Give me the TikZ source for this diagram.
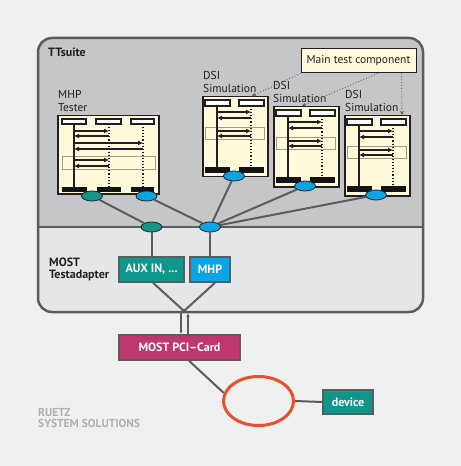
\documentclass[tikz,border=0pt]{standalone}
\usepackage{fontspec}
\setmainfont{PT Sans}
\usetikzlibrary{shapes.geometric,arrows.meta,calc}
\definecolor{bgc}{HTML}{F0F0F0}
\definecolor{upperc}{HTML}{C5C6C8}
\definecolor{lowerc}{HTML}{E5E6E7}
\definecolor{borderc}{HTML}{5B5C5E}
\definecolor{cream}{HTML}{FFFADC}
\definecolor{tealc}{HTML}{10968A}
\definecolor{bluec}{HTML}{0AA5E2}
\definecolor{magc}{HTML}{BE376E}
\definecolor{ringc}{HTML}{E8502D}
\definecolor{txtc}{HTML}{231F20}
\definecolor{logoc}{HTML}{AEAFB1}
\definecolor{framec}{HTML}{A29E86}
\definecolor{barc}{HTML}{141414}
\tikzset{
  seqbox/.style={draw=txtc, fill=cream, anchor=north west, inner sep=0pt, line width=1.5bp},
  hdr/.style={draw=txtc, fill=white, line width=1.1bp},
  framebox/.style={draw=framec, line width=0.9bp},
  life/.style={draw=txtc, line width=1.1bp},
  msg/.style={draw=txtc, line width=1.1bp, -{Latex[length=5bp,width=5bp]}},
  ell/.style={ellipse, draw=txtc, line width=0.8bp, minimum width=21bp, minimum height=10bp, inner sep=0pt},
  blueell/.style={ell, fill=bluec},
  tealell/.style={ell, fill=tealc},
  conn/.style={draw=borderc, line width=2bp},
  lbl/.style={font=\fontsize{11.5bp}{13bp}\selectfont, text=txtc, align=left, inner sep=0pt, text depth=0pt},
  boldlbl/.style={font=\fontsize{12bp}{12.5bp}\selectfont\bfseries, text=txtc, align=left, inner sep=0pt, text depth=0pt},
  colbox/.style={draw=borderc, line width=1.5bp, inner sep=0pt, text=white, font=\fontsize{12bp}{12bp}\selectfont\bfseries},
  dotarr/.style={draw=borderc, line width=0.9bp, dotted, -{Stealth[length=4bp,width=4bp]}},
  pciarr/.style={draw=borderc, line width=1.3bp, -{Latex[length=4bp,width=3.5bp]}}
}
\newcommand\dsibox[2]{%
 \begin{scope}[shift={#2}]
  \node[seqbox, minimum width=65bp, minimum height=80bp] (#1) at (0,0) {};
  \draw[framebox] (3,31) rectangle (62,43);
  \draw[hdr] (3,4) rectangle (28,10);
  \draw[hdr] (37,4) rectangle (62,10);
  \draw[life] (15,10) -- (15,71);
  \draw[life,dotted] (49,10) -- (49,71);
  \draw[msg] (15,16) -- (49,16);
  \draw[msg] (49,22) -- (15,22);
  \draw[msg] (15,35) -- (49,35);
  \draw[msg] (49,40) -- (15,40);
  \fill[barc] (3,71) rectangle (28,77);
  \fill[barc] (37,71) rectangle (62,77);
  \node[blueell] (#1e) at (32,80) {};
 \end{scope}}
\begin{document}
\begin{tikzpicture}[x=1bp,y=-1bp]
\useasboundingbox (0,0) rectangle (461,466);
\fill[bgc] (0,0) rectangle (461,466);
% outer container
\begin{scope}
  \clip[rounded corners=14bp] (38,38) rectangle (423,312);
  \fill[upperc] (38,38) rectangle (423,227);
  \fill[lowerc] (38,227) rectangle (423,312);
\end{scope}
\draw[borderc, line width=2.5bp] (38,227) -- (423,227);
\draw[borderc, line width=2.5bp, rounded corners=14bp] (38,38) rectangle (423,312);

\node[boldlbl, anchor=base west] (ttsuite) at (48,57) {TTsuite};

% MHP tester
\node[lbl, anchor=south west] (mhplbl) at (58,111.5) {MHP\\Tester};
\begin{scope}[shift={(57,115)}]
  \node[seqbox, minimum width=101bp, minimum height=78bp] (mhpt) at (0,0) {};
  \draw[framebox] (5,41) rectangle (98,54);
  \draw[hdr] (5,4) rectangle (29,9);
  \draw[hdr] (39,4) rectangle (64,9);
  \draw[hdr] (74,4) rectangle (97,9);
  \draw[life] (17,9) -- (17,72);
  \draw[life,dotted] (52,9) -- (52,72);
  \draw[life,dotted] (86,9) -- (86,72);
  \draw[msg] (17,16) -- (52,16);
  \draw[msg] (52,21) -- (17,21);
  \draw[msg] (17,28) -- (86,28);
  \draw[msg] (86,34) -- (17,34);
  \draw[msg] (17,45) -- (52,45);
  \draw[msg] (52,51) -- (17,51);
  \fill[barc] (5,72) rectangle (30,77);
  \fill[barc] (40,72) rectangle (64,77);
  \fill[barc] (74,72) rectangle (97,77);
  \node[tealell] (mhpte) at (35,81) {};
  \node[blueell] (mhptb) at (89.5,81) {};
\end{scope}

% DSI simulations
\node[lbl, anchor=south west] (dsiAlbl) at (203,93) {DSI\\Simulation};
\node[lbl, anchor=south west] (dsiBlbl) at (273,102.5) {DSI\\Simulation};
\node[lbl, anchor=south west] (dsiClbl) at (345,112) {DSI\\Simulation};
\dsibox{dsiA}{(202,96)}
\dsibox{dsiB}{(273,106)}
\dsibox{dsiC}{(344,115)}

% main test component
\node[draw=txtc, fill=cream, line width=1bp, minimum width=115bp, minimum height=24bp, inner sep=0pt,
      font=\fontsize{11.5bp}{12bp}\selectfont, text=txtc] (mtc) at (358.5,61) {Main test component};
\draw[dotarr] (mtc.south west) -- ($(dsiA.north west)+(50,0)$);
\draw[dotarr] ($(mtc.south west)+(77,0)$) -- ($(dsiB.north west)+(29,0)$);
\draw[dotarr] ($(mtc.south west)+(101,0)$) -- ($(dsiC.north west)+(58,0)$);

% lower ellipses
\node[tealell] (lowT) at (151.5,227) {};
\node[blueell] (lowB) at (210,227) {};
\draw[conn] (mhpte) -- (lowT);
\draw[conn] (mhptb) -- (lowB);
\draw[conn] (dsiAe) -- (lowB);
\draw[conn] (dsiBe) -- (lowB);
\draw[conn] (dsiCe) -- (lowB);

% MOST Testadapter
\node[boldlbl, anchor=south west] (mostlbl) at (49,279) {MOST\\Testadapter};
\node[colbox, fill=tealc, minimum width=65bp, minimum height=25bp] (aux) at (151.5,269.5) {AUX IN, ...};
\node[colbox, fill=bluec, minimum width=40bp, minimum height=25bp] (mhpbox) at (210,269.5) {MHP};
\draw[conn] (lowT) -- (aux);
\draw[conn] (lowB) -- (mhpbox);
\coordinate (conv) at (184,311);
\draw[conn] ([xshift=1.5bp]aux.south) -- (conv);
\draw[conn] ([xshift=5bp]mhpbox.south) -- (conv);

% PCI card
\node[colbox, fill=magc, minimum width=121bp, minimum height=25bp] (pci) at (179.5,347.5) {MOST PCI–Card};
\draw[pciarr] ([xshift=-3bp,yshift=-1.5bp]conv) -- ([xshift=-3bp]conv |- pci.north);
\draw[pciarr] ([xshift=4bp]conv |- pci.north) -- ([xshift=4bp,yshift=-2bp]conv);

% ring and device
\node[ellipse, draw=ringc, line width=3bp, minimum width=70bp, minimum height=49bp, inner sep=0pt] (ring) at (258.5,401) {};
\node[colbox, fill=tealc, minimum width=50bp, minimum height=24bp] (device) at (348,402) {device};
\draw[conn] ([xshift=9.5bp]pci.south) -- (ring.167);
\draw[conn] (ring.east) -- (device.west);

% logo
\node[font=\fontsize{11.5bp}{11bp}\selectfont\bfseries, text=logoc, align=left, inner sep=0pt, text depth=0pt, anchor=south west] (logo) at (38,428) {RUETZ\\SYSTEM SOLUTIONS};
\end{tikzpicture}
\end{document}
